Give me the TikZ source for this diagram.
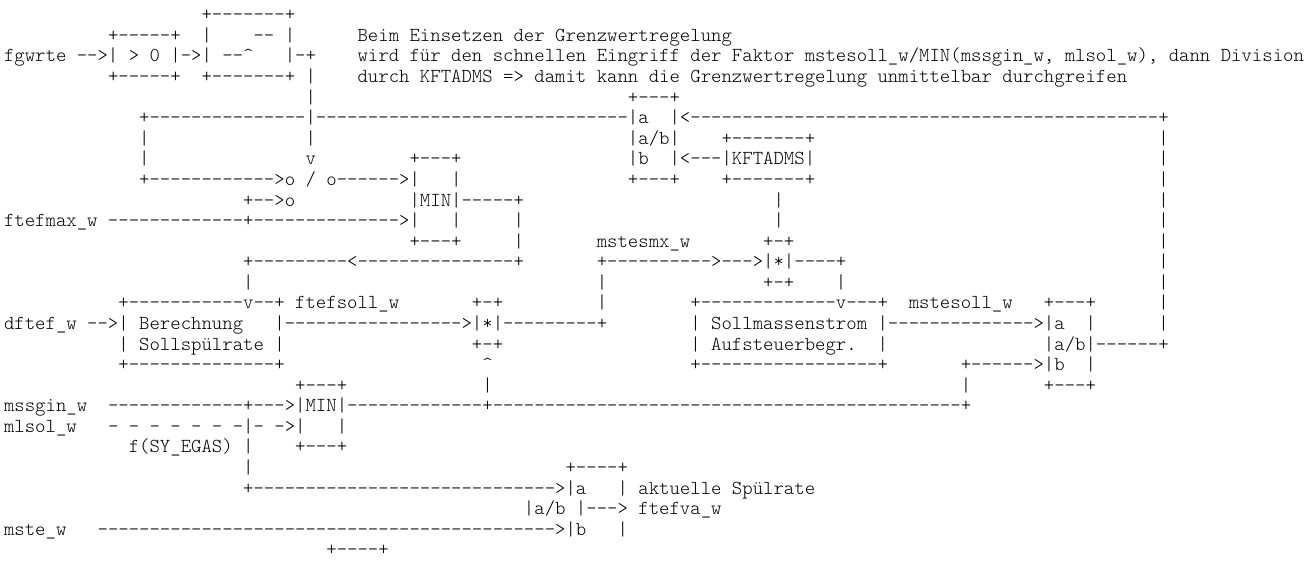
\documentclass[tikz,border=0pt]{standalone}
\usepackage{fontspec}
\setmonofont{lmmonolt10-regular.otf}
\usepackage{tikz}
\newcommand\dsh[1]{\foreach\k in {1,...,#1}{-}}

\begin{document}
\catcode`\_=12 \catcode`\^=12
\begin{tikzpicture}[
		x=7.8pt, y=-15.435pt,
		asc/.style={font=\ttfamily\fontsize{14.857}{16}\selectfont, anchor=base west,
			inner sep=0pt, outer sep=0pt, text=black}
	]
		\useasboundingbox (-0.385,-0.011) rectangle (125.87,27.88);
		% Grenzwertregelung: Schwelle und Hinweis
		\node[asc] (r1a) at (19,1) {+-------+};
		\node[asc] (r2a) at (10,2) {+-----+};
		\node[asc] (r2b) at (19,2) {|};
		\node[asc] (r2c) at (24,2) {-- |};
		\node[asc] (r2d) at (34,2) {Beim Einsetzen der Grenzwertregelung};
		\node[asc] (r3a) at (0,3) {fgwrte -->| > 0 |->| --^};
		\node[asc] (r3b) at (27,3) {|-+};
		\node[asc] (r3c) at (34,3) {wird für den schnellen Eingriff der Faktor mstesoll_w/MIN(mssgin_w, mlsol_w), dann Division};
		\node[asc] (r4a) at (10,4) {+-----+};
		\node[asc] (r4b) at (19,4) {+-------+ |};
		\node[asc] (r4c) at (34,4) {durch KFTADMS => damit kann die Grenzwertregelung unmittelbar durchgreifen};
		\node[asc] (r5a) at (29,5) {|};
		\node[asc] (r5b) at (60,5) {+---+};
		% Schalter, MIN und KFTADMS
		\node[asc] (r6a) at (13,6) {+\dsh{15}|\dsh{30}|a};
		\node[asc] (r6b) at (64,6) {|<\dsh{45}+};
		\node[asc] (r7a) at (13,7) {|};
		\node[asc] (r7b) at (29,7) {|};
		\node[asc] (r7c) at (60,7) {|a/b|};
		\node[asc] (r7d) at (69,7) {+-------+};
		\node[asc] (r7e) at (111,7) {|};
		\node[asc] (r8a) at (13,8) {|};
		\node[asc] (r8b) at (29,8) {v};
		\node[asc] (r8c) at (39,8) {+---+};
		\node[asc] (r8d) at (60,8) {|b};
		\node[asc] (r8e) at (64,8) {|<---|KFTADMS|};
		\node[asc] (r8f) at (111,8) {|};
		\node[asc] (r9a) at (13,9) {+\dsh{12}>o / o------>|};
		\node[asc] (r9b) at (43,9) {|};
		\node[asc] (r9c) at (60,9) {+---+};
		\node[asc] (r9d) at (69,9) {+-------+};
		\node[asc] (r9e) at (111,9) {|};
		\node[asc] (r10a) at (23,10) {+-->o};
		\node[asc] (r10b) at (39,10) {|MIN|-----+};
		\node[asc] (r10c) at (74,10) {|};
		\node[asc] (r10d) at (111,10) {|};
		\node[asc] (r11a) at (0,11) {ftefmax_w \dsh{13}+\dsh{14}>|};
		\node[asc] (r11b) at (43,11) {|};
		\node[asc] (r11c) at (49,11) {|};
		\node[asc] (r11d) at (74,11) {|};
		\node[asc] (r11e) at (111,11) {|};
		\node[asc] (r12a) at (39,12) {+---+};
		\node[asc] (r12b) at (49,12) {|};
		\node[asc] (r12c) at (57,12) {mstesmx_w};
		\node[asc] (r12d) at (73,12) {+-+};
		\node[asc] (r12e) at (111,12) {|};
		\node[asc] (r13a) at (23,13) {+\dsh{9}<\dsh{15}+};
		\node[asc] (r13b) at (57,13) {+\dsh{10}>--->|*|----+};
		\node[asc] (r13c) at (111,13) {|};
		\node[asc] (r14a) at (23,14) {|};
		\node[asc] (r14b) at (57,14) {|};
		\node[asc] (r14c) at (73,14) {+-+};
		\node[asc] (r14d) at (80,14) {|};
		\node[asc] (r14e) at (111,14) {|};
		% Sollspuelrate und Sollmassenstrom
		\node[asc] (r15a) at (11,15) {+\dsh{11}v--+ ftefsoll_w};
		\node[asc] (r15b) at (45,15) {+-+};
		\node[asc] (r15c) at (57,15) {|};
		\node[asc] (r15d) at (66,15) {+\dsh{13}v---+};
		\node[asc] (r15e) at (87,15) {mstesoll_w};
		\node[asc] (r15f) at (100,15) {+---+};
		\node[asc] (r15g) at (111,15) {|};
		\node[asc] (r16a) at (0,16) {dftef_w -->| Berechnung};
		\node[asc] (r16b) at (26,16) {|\dsh{17}>|*|\dsh{9}+};
		\node[asc] (r16c) at (66,16) {| Sollmassenstrom |\dsh{14}>|a};
		\node[asc] (r16d) at (104,16) {|};
		\node[asc] (r16e) at (111,16) {|};
		\node[asc] (r17a) at (11,17) {| Sollspülrate |};
		\node[asc] (r17b) at (45,17) {+-+};
		\node[asc] (r17c) at (66,17) {| Aufsteuerbegr.};
		\node[asc] (r17d) at (84,17) {|};
		\node[asc] (r17e) at (100,17) {|a/b|------+};
		\node[asc] (r18a) at (11,18) {+\dsh{14}+};
		\node[asc] (r18b) at (46,18) {^};
		\node[asc] (r18c) at (66,18) {+\dsh{17}+};
		\node[asc] (r18d) at (92,18) {+------>|b};
		\node[asc] (r18e) at (104,18) {|};
		\node[asc] (r19a) at (28,19) {+---+};
		\node[asc] (r19b) at (46,19) {|};
		\node[asc] (r19c) at (92,19) {|};
		\node[asc] (r19d) at (100,19) {+---+};
		% MIN(mssgin_w, mlsol_w) und aktuelle Spuelrate
		\node[asc] (r20a) at (0,20) {mssgin_w};
		\node[asc] (r20b) at (10,20) {\dsh{13}+--->|MIN|\dsh{13}+\dsh{45}+};
		\node[asc] (r21a) at (0,21) {mlsol_w};
		\node[asc] (r21b) at (10,21) {- - - - - - -|- ->|};
		\node[asc] (r21c) at (32,21) {|};
		\node[asc] (r22a) at (12,22) {f(SY_EGAS) |};
		\node[asc] (r22b) at (28,22) {+---+};
		\node[asc] (r23a) at (23,23) {|};
		\node[asc] (r23b) at (54,23) {+----+};
		\node[asc] (r24a) at (23,24) {+\dsh{29}>|a};
		\node[asc] (r24b) at (59,24) {| aktuelle Spülrate};
		\node[asc] (r25a) at (50,25) {|a/b |---> ftefva_w};
		\node[asc] (r26a) at (0,26) {mste_w};
		\node[asc] (r26b) at (9,26) {\dsh{44}>|b};
		\node[asc] (r26c) at (59,26) {|};
		\node[asc] (r27a) at (31,27) {+----+};
	\end{tikzpicture}
\end{document}
